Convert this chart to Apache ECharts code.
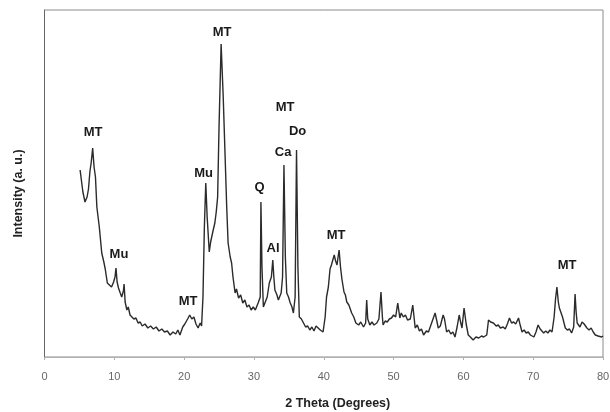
<!DOCTYPE html>
<html>
<head>
<meta charset="utf-8">
<script src="https://cdn.jsdelivr.net/npm/echarts@6/dist/echarts.min.js"></script>
<style>
  html, body { margin: 0; padding: 0; background: #fff; }
  #chart { width: 610px; height: 412px; }
</style>
</head>
<body>
<div id="chart"></div>
<script>
// 2 theta positions (degrees)
const thetaValues = [
  5.1, 5.5, 5.8, 6.1, 6.3, 6.5, 6.7, 6.9, 7.1, 7.3, 7.5, 7.85, 8.2, 8.5, 8.7, 9.0, 9.3, 9.6, 9.9, 10.1,
  10.24, 10.4, 10.6, 10.85, 11.06, 11.3, 11.4, 11.55, 11.8, 12.0, 12.25, 12.5, 12.8, 13.1, 13.4, 13.7, 14.0, 14.4, 14.8, 15.2,
  15.6, 16.0, 16.4, 16.8, 17.2, 17.6, 18.0, 18.4, 18.8, 19.1, 19.4, 19.8, 20.1, 20.5, 20.8, 21.1, 21.4, 21.7, 22.0, 22.3,
  22.5, 22.7, 22.9, 23.1, 23.3, 23.6, 23.8, 23.95, 24.2, 24.4, 24.6, 24.8, 25.0, 25.3, 25.6, 25.9, 26.1, 26.3, 26.6, 26.8,
  27.0, 27.3, 27.5, 27.8, 28.1, 28.4, 28.7, 29.0, 29.3, 29.6, 29.9, 30.2, 30.6, 30.9, 31.0, 31.15, 31.35, 31.6, 31.9, 32.2,
  32.5, 32.7, 32.85, 33.0, 33.3, 33.5, 33.9, 34.1, 34.3, 34.5, 34.7, 34.95, 35.2, 35.45, 35.65, 35.9, 36.1, 36.3, 36.5, 36.8,
  37.1, 37.4, 37.7, 38.0, 38.3, 38.6, 38.9, 39.2, 39.5, 39.9, 40.2, 40.4, 40.66, 40.9, 41.1, 41.3, 41.5, 41.7, 41.9, 42.05,
  42.2, 42.4, 42.6, 42.9, 43.1, 43.3, 43.6, 44.0, 44.3, 44.6, 45.0, 45.3, 45.7, 46.0, 46.15, 46.3, 46.6, 46.9, 47.2, 47.6,
  47.9, 48.2, 48.4, 48.5, 48.8, 49.1, 49.4, 49.7, 50.0, 50.3, 50.6, 50.9, 51.1, 51.4, 51.7, 52.0, 52.4, 52.75, 53.1, 53.4,
  53.7, 54.0, 54.3, 54.7, 55.0, 55.2, 55.5, 55.95, 56.2, 56.4, 56.7, 57.1, 57.3, 57.6, 57.9, 58.2, 58.5, 58.8, 59.1, 59.4,
  59.6, 59.8, 60.1, 60.4, 60.7, 61.0, 61.4, 61.8, 62.2, 62.6, 62.9, 63.35, 63.6, 63.9, 64.3, 64.7, 65.0, 65.3, 65.7, 66.0,
  66.3, 66.6, 66.9, 67.2, 67.5, 67.9, 68.1, 68.4, 68.7, 69.0, 69.3, 69.6, 70.1, 70.4, 70.7, 71.0, 71.5, 71.8, 72.1, 72.4,
  72.7, 73.0, 73.2, 73.4, 73.6, 73.75, 73.95, 74.2, 74.6, 74.9, 75.2, 75.5, 75.8, 76.0, 76.15, 76.3, 76.7, 77.0, 77.3, 77.7,
  78.0, 78.3, 78.6, 78.9, 79.3, 79.8, 80.0
];

// intensity (arbitrary units)
const intensityValues = [
  187, 165, 155, 160, 168, 185, 195, 209, 190, 180, 150, 130, 104, 95, 88, 74, 72, 70, 75, 80,
  89, 75, 69, 64, 60, 66, 73, 55, 47, 50, 42, 44, 38, 39, 34, 35, 31, 33, 29, 31,
  28, 30, 26, 28, 25, 26, 22, 25, 23, 27, 22, 30, 33, 38, 42, 38, 40, 33, 29, 34,
  31, 60, 130, 174, 140, 105, 115, 120, 128, 134, 145, 160, 230, 313, 260, 194, 150, 114, 100, 94,
  80, 64, 68, 59, 62, 54, 57, 50, 52, 47, 50, 47, 54, 60, 155, 90, 50, 52, 60, 74,
  80, 97, 80, 67, 62, 57, 64, 80, 192, 100, 64, 60, 54, 50, 44, 60, 207, 90, 40, 38,
  34, 30, 31, 27, 30, 26, 31, 29, 27, 25, 40, 60, 70, 88, 92, 97, 102, 96, 92, 100,
  107, 90, 78, 65, 62, 55, 52, 44, 40, 34, 32, 35, 30, 34, 57, 38, 32, 35, 32, 34,
  38, 65, 40, 32, 36, 35, 38, 39, 42, 40, 54, 39, 44, 40, 42, 37, 38, 52, 29, 32,
  26, 28, 22, 26, 25, 27, 35, 44, 36, 29, 31, 42, 38, 25, 27, 23, 25, 20, 30, 42,
  35, 29, 49, 33, 22, 20, 17, 20, 19, 21, 20, 22, 37, 35, 34, 31, 32, 29, 30, 28,
  33, 39, 34, 35, 33, 39, 33, 25, 27, 24, 25, 22, 20, 25, 32, 28, 24, 26, 24, 27,
  25, 40, 58, 70, 55, 49, 50, 40, 29, 27, 28, 24, 30, 63, 45, 34, 30, 35, 33, 29,
  27, 29, 25, 22, 21, 20, 21
];

// phase labels: text, theta, intensity level where the label sits
const peakNames  = ['MT', 'Mu', 'MT', 'Mu', 'MT', 'Q', 'Al', 'Ca', 'MT', 'Do', 'MT', 'MT'];
const peakTheta  = [6.95, 10.67, 20.56, 22.78, 25.43, 30.8, 32.74, 34.17, 34.46, 36.25, 41.76, 74.86];
const peakLevels = [225, 103, 56, 183.5, 325, 169.5, 109, 205, 250, 225.5, 122, 92];

const xTicks = [0, 10, 20, 30, 40, 50, 60, 70, 80];

const chart = echarts.init(document.getElementById('chart'));

const lineData = thetaValues.map((t, i) => [t, intensityValues[i]]);
const labelPoints = peakNames.map((n, i) => ({ name: n, coord: [peakTheta[i], peakLevels[i]] }));

const option = {
  animation: false,
  grid: {
    left: 44.5, right: 7, top: 10, bottom: 55,
    outerBoundsMode: 'none',
    show: true, borderColor: '#8c8c8c', borderWidth: 1, backgroundColor: '#fff'
  },
  xAxis: {
    type: 'value',
    min: xTicks[0], max: xTicks[xTicks.length - 1], interval: 10,
    name: '2 Theta (Degrees)',
    nameLocation: 'middle', nameGap: 40,
    nameTextStyle: { fontFamily: 'Liberation Sans', fontWeight: 'bold', fontSize: 12.5, color: '#222', padding: [0, 0, 0, 28] },
    axisLine: { lineStyle: { color: '#b0b0b0', width: 1 } },
    axisTick: { show: true, length: 3, lineStyle: { color: '#b0b0b0' } },
    axisLabel: { fontFamily: 'Liberation Sans', fontSize: 11, color: '#666', margin: 14 },
    splitLine: { show: false }
  },
  yAxis: {
    type: 'value',
    min: 0, max: 347,
    name: 'Intensity (a. u.)',
    nameLocation: 'middle', nameGap: 19,
    nameTextStyle: { fontFamily: 'Liberation Sans', fontWeight: 'bold', fontSize: 12.5, color: '#222', padding: [0, 20, 0, 0] },
    axisLine: { show: true, lineStyle: { color: '#666', width: 1 } },
    axisTick: { show: false },
    axisLabel: { show: false },
    splitLine: { show: false }
  },
  series: [{
    type: 'line',
    data: lineData,
    showSymbol: false,
    lineStyle: { color: '#2b2b2b', width: 1.4 },
    markPoint: {
      symbol: 'circle',
      symbolSize: 0,
      silent: true,
      label: {
        show: true, position: 'inside',
        formatter: p => p.name,
        fontFamily: 'Liberation Sans', fontWeight: 'bold', fontSize: 13, color: '#1a1a1a'
      },
      data: labelPoints
    }
  }]
};

chart.setOption(option);
</script>
</body>
</html>
